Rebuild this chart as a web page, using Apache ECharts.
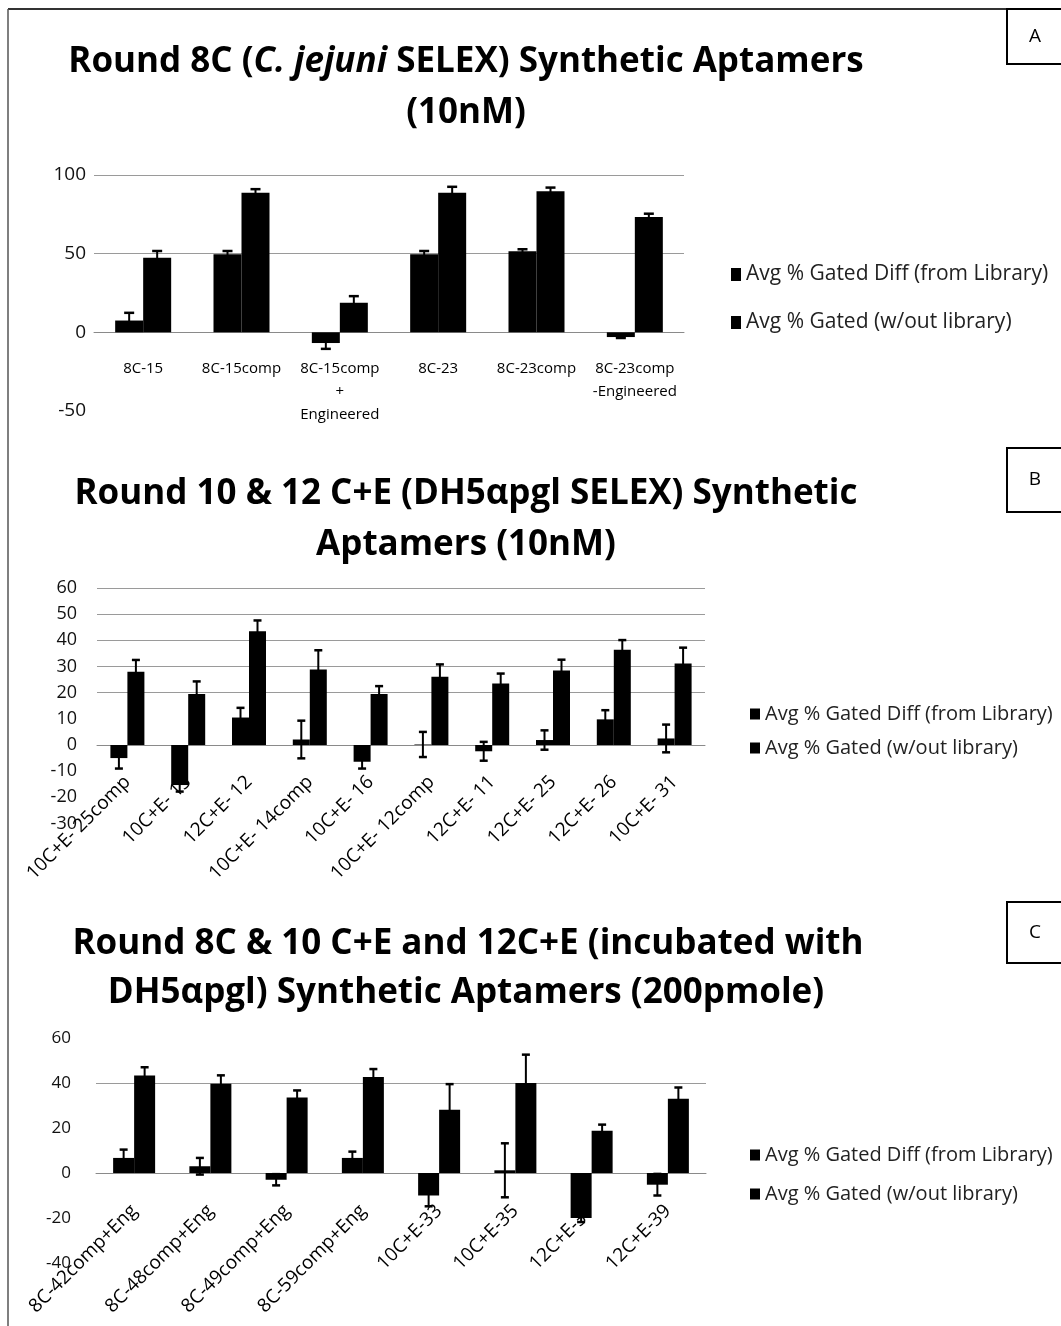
<!DOCTYPE html>
<html>
<head>
<meta charset="utf-8">
<style>
  html, body { margin: 0; padding: 0; background: #fff; }
  #chart { width: 1061px; height: 1326px; }
</style>
<script src="https://cdn.jsdelivr.net/npm/echarts@6/dist/echarts.min.js"></script>
</head>
<body>
<div id="chart"></div>
<script>
// Panel A: Round 8C (C. jejuni SELEX), 10nM
const catsA = ['8C-15', '8C-15comp', '8C-15comp\n+\nEngineered', '8C-23', '8C-23comp', '8C-23comp\n-Engineered'];
const diffA = [7.5, 49.6, -6.8, 49.6, 51.5, -3];
const diffErrA = [4.9, 2.1, 3.7, 2.1, 1.3, 0.6];
const woA = [47.4, 88.7, 18.8, 88.7, 89.7, 73.3];
const woErrA = [4.3, 2.3, 4.2, 3.8, 2.3, 2.1];
const ticksA = { min: -50, max: 100, interval: 50 };

// Panel B: Round 10 & 12 C+E (DH5αpgl SELEX), 10nM
const catsB = ['10C+E- 25comp', '10C+E- 13', '12C+E- 12', '10C+E- 14comp', '10C+E- 16',
               '10C+E- 12comp', '12C+E- 11', '12C+E- 25', '12C+E- 26', '10C+E- 31'];
const diffB = [-5, -15.3, 10.5, 2.1, -6.4, 0.2, -2.4, 1.9, 9.8, 2.5];
const diffErrB = [4, 2.5, 3.7, 7.2, 2.6, 4.8, 3.6, 3.7, 3.5, 5.3];
const woB = [28, 19.5, 43.5, 28.9, 19.5, 26.1, 23.5, 28.5, 36.4, 31.1];
const woErrB = [4.5, 4.8, 4.1, 7.3, 3, 4.7, 3.8, 4.1, 3.7, 6.1];
const ticksB = { min: -30, max: 60, interval: 10 };

// Panel C: Round 8C & 10 C+E and 12C+E (incubated with DH5αpgl), 200pmole
const catsC = ['8C-42comp+Eng', '8C-48comp+Eng', '8C-49comp+Eng', '8C-59comp+Eng',
               '10C+E-33', '10C+E-35', '12C+E-37', '12C+E-39'];
const diffC = [6.7, 3, -3, 6.7, -10, 1.2, -20, -5.2];
const diffErrC = [3.7, 3.7, 2.5, 2.8, 4.8, 12, 1.8, 4.8];
const woC = [43.3, 39.7, 33.6, 42.7, 28.1, 40, 18.8, 33];
const woErrC = [3.7, 3.7, 3.1, 3.5, 11.4, 12.6, 2.7, 5];
const ticksC = { min: -40, max: 60, interval: 20 };

const seriesNames = ['Avg % Gated Diff (from Library)', 'Avg % Gated (w/out library)'];

const FONT = '"Open Sans", "Noto Sans", "DejaVu Sans", sans-serif';
const INK = '#000';
const GRID_GRAY = '#9a9a9a';

// grid lines only where the panel shows them
function splitColors(t, visible) {
  const out = [];
  for (let v = t.min; v <= t.max + 1e-9; v += t.interval) {
    out.push(visible(v) ? GRID_GRAY : 'rgba(0,0,0,0)');
  }
  return out;
}

const panels = [
  { cats: catsA, diff: diffA, diffErr: diffErrA, wo: woA, woErr: woErrA, ticks: ticksA,
    grid: { left: 94, top: 175, width: 590, height: 236 }, barW: 28, cap: 10,
    xLabel: { rotate: 0, margin: 25, fontSize: 15, lineHeight: 23 },
    yLabel: { fontSize: 19, margin: 8 },
    gridVisible: v => v >= 0 },
  { cats: catsB, diff: diffB, diffErr: diffErrB, wo: woB, woErr: woErrB, ticks: ticksB,
    grid: { left: 97, top: 588, width: 608, height: 235.5 }, barW: 17, cap: 8,
    xLabel: { rotate: 45, margin: 34, fontSize: 19 },
    yLabel: { fontSize: 18, margin: 20 },
    gridVisible: v => v >= 20 || v === 0 },
  { cats: catsC, diff: diffC, diffErr: diffErrC, wo: woC, woErr: woErrC, ticks: ticksC,
    grid: { left: 96, top: 1038, width: 610, height: 225 }, barW: 21, cap: 8,
    xLabel: { rotate: 45, margin: 35, fontSize: 19 },
    yLabel: { fontSize: 17, margin: 25 },
    gridVisible: v => v === 0 || v === 40 }
];

// vertical distance from the bottom of a grid to its zero line
function zeroOffset(p) {
  const t = p.ticks;
  return p.grid.height * (0 - t.min) / (t.max - t.min);
}

function errorSeries(p, idx, values, errs, offsetSign) {
  return {
    type: 'custom',
    xAxisIndex: idx, yAxisIndex: idx,
    z: 5,
    silent: true,
    data: values.map((v, i) => [i, v, errs[i]]),
    renderItem: function (params, api) {
      const i = api.value(0), v = api.value(1), e = api.value(2);
      const cx = api.coord([i, 0])[0] + offsetSign * p.barW / 2;
      const yHi = api.coord([i, v + e])[1];
      const yLo = api.coord([i, v - e])[1];
      const half = p.cap / 2;
      return {
        type: 'group',
        children: [
          { type: 'line', shape: { x1: cx, y1: yHi, x2: cx, y2: yLo }, style: { stroke: INK, lineWidth: 2 } },
          { type: 'line', shape: { x1: cx - half, y1: yHi, x2: cx + half, y2: yHi }, style: { stroke: INK, lineWidth: 2.5 } },
          { type: 'line', shape: { x1: cx - half, y1: yLo, x2: cx + half, y2: yLo }, style: { stroke: INK, lineWidth: 2.5 } }
        ]
      };
    }
  };
}

const grids = [], xAxes = [], yAxes = [], series = [];
panels.forEach((p, idx) => {
  grids.push(Object.assign({ containLabel: false, outerBoundsMode: 'none' }, p.grid));
  xAxes.push({
    type: 'category', gridIndex: idx, data: p.cats, position: 'bottom',
    offset: -zeroOffset(p),
    axisLine: { onZero: false, lineStyle: { color: '#8a8a8a', width: 1 } },
    axisTick: { show: false },
    splitLine: { show: false },
    axisLabel: Object.assign({ interval: 0, color: '#000', fontFamily: FONT }, p.xLabel)
  });
  yAxes.push({
    type: 'value', gridIndex: idx,
    min: p.ticks.min, max: p.ticks.max, interval: p.ticks.interval,
    axisLine: { show: false }, axisTick: { show: false },
    splitLine: { show: true, lineStyle: { color: splitColors(p.ticks, p.gridVisible), width: 1 } },
    axisLabel: Object.assign({ color: '#111', fontFamily: FONT }, p.yLabel)
  });
  series.push({
    name: seriesNames[0], type: 'bar', xAxisIndex: idx, yAxisIndex: idx,
    data: p.diff, barWidth: p.barW, barGap: '0%',
    itemStyle: { color: INK }
  });
  series.push({
    name: seriesNames[1], type: 'bar', xAxisIndex: idx, yAxisIndex: idx,
    data: p.wo, barWidth: p.barW, barGap: '0%',
    itemStyle: { color: INK }
  });
  series.push(errorSeries(p, idx, p.diff, p.diffErr, -1));
  series.push(errorSeries(p, idx, p.wo, p.woErr, 1));
});

const legendBase = {
  orient: 'vertical', data: seriesNames, icon: 'rect',
  itemWidth: 10, itemHeight: 11, selectedMode: false,
  textStyle: { color: '#222', fontFamily: FONT }
};
const legends = [
  Object.assign({}, legendBase, { left: 726, top: 259, itemGap: 27, itemHeight: 13, textStyle: Object.assign({}, legendBase.textStyle, { fontSize: 21 }) }),
  Object.assign({}, legendBase, { left: 745, top: 699, itemGap: 14, textStyle: Object.assign({}, legendBase.textStyle, { fontSize: 20 }) }),
  Object.assign({}, legendBase, { left: 745, top: 1140, itemGap: 19, textStyle: Object.assign({}, legendBase.textStyle, { fontSize: 20 }) })
];

const TITLE_SIZE = 35;
const titleFont = 'bold ' + TITLE_SIZE + 'px ' + FONT;
const titleRich = {
  b: { font: titleFont, fill: '#000' },
  i: { font: 'italic bold ' + TITLE_SIZE + 'px ' + FONT, fill: '#000' }
};
function titleText(x, y, text) {
  return {
    type: 'text', x: x, y: y, z: 10,
    style: { text: text, rich: titleRich, font: titleFont, fill: '#000', align: 'center', verticalAlign: 'middle' }
  };
}
function panelBox(y, h, letter) {
  return [
    { type: 'rect', shape: { x: 1007, y: y, width: 60, height: h }, style: { fill: '#fff', stroke: '#000', lineWidth: 2 }, z: 10 },
    { type: 'text', x: 1035, y: y + h / 2, z: 11, style: { text: letter, font: '19px ' + FONT, fill: '#000', align: 'center', verticalAlign: 'middle' } }
  ];
}

const graphics = [
  { type: 'line', shape: { x1: 8, y1: 9, x2: 1061, y2: 9 }, style: { stroke: '#333', lineWidth: 2 }, z: 10 },
  { type: 'line', shape: { x1: 8, y1: 9, x2: 8, y2: 1326 }, style: { stroke: '#555', lineWidth: 1.5 }, z: 10 },
  titleText(466, 62, '{b|Round 8C (}{i|C. jejuni}{b| SELEX) Synthetic Aptamers}'),
  titleText(466, 113, '{b|(10nM)}'),
  titleText(466, 494, '{b|Round 10 & 12 C+E (DH5αpgl SELEX) Synthetic}'),
  titleText(466, 545, '{b|Aptamers (10nM)}'),
  titleText(468, 944, '{b|Round 8C & 10 C+E and 12C+E (incubated with}'),
  titleText(466, 993, '{b|DH5αpgl) Synthetic Aptamers (200pmole)}')
].concat(panelBox(9, 55, 'A'), panelBox(448, 64, 'B'), panelBox(902, 61, 'C'));

const chart = echarts.init(document.getElementById('chart'), null, { renderer: 'canvas' });
chart.setOption({
  backgroundColor: '#fff',
  animation: false,
  grid: grids,
  xAxis: xAxes,
  yAxis: yAxes,
  legend: legends,
  series: series,
  graphic: graphics
});
</script>
</body>
</html>
